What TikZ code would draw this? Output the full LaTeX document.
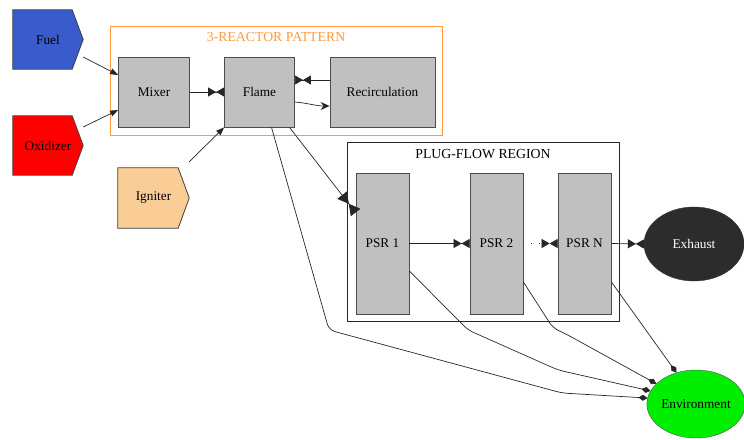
\documentclass[tikz,border=0pt]{standalone}
\usepackage{fontspec}
\setmainfont{Liberation Serif}
\usetikzlibrary{arrows.meta,calc,shapes.geometric}
\definecolor{fuelblue}{HTML}{3A5BCC}
\definecolor{oxred}{HTML}{FF0000}
\definecolor{ignpeach}{HTML}{FACD96}
\definecolor{boxgray}{HTML}{C0C0C0}
\definecolor{clorange}{HTML}{FF9A40}
\definecolor{exdark}{HTML}{2C2C2C}
\definecolor{envgreen}{HTML}{00EE00}
\tikzset{
  lbl/.style={font=\rmfamily\fontsize{13.3}{15}\selectfont},
  reactor/.style={lbl, draw=black!70, fill=boxgray, line width=0.8pt, inner sep=0pt},
  feed/.style={lbl, inner sep=0pt, minimum width=70pt, minimum height=59pt},
  feedshape/.style={draw=black!75, line width=0.8pt},
  edge/.style={draw=black!85, line width=0.7pt},
  bowtie/.style={-{Triangle[length=8pt,width=9pt] Triangle[length=8pt,width=9pt,reversed]}},
  bigbowtie/.style={-{Triangle[length=11pt,width=12pt] Triangle[length=11pt,width=12pt,reversed]}},
  diam/.style={-{Diamond[length=9pt,width=6pt]}},
  feedarrow/.style={-{Triangle[length=8pt,width=6pt]}},
  cltitle/.style={font=\rmfamily\fontsize{13.8}{16}\selectfont}
}
\begin{document}
\begin{tikzpicture}[x=1pt,y=-1pt]
\useasboundingbox (0,0) rectangle (744,439);
% clusters
\draw[clorange, line width=1.8pt] (110.5,26.5) rectangle (442.5,135.5);
\node[cltitle, text=clorange] (t1) at (276,37) {3-REACTOR PATTERN};
\draw[black!85, line width=1.8pt] (347.5,142.5) rectangle (619.5,321.5);
\node[cltitle] (t2) at (483,154) {PLUG-FLOW REGION};
% feed nodes
\node[feed] (fuel) at (48,39.5) {};
\node[feed] (oxid) at (48,145.5) {};
\node[feed, minimum width=71pt, minimum height=60pt] (ign) at (153.5,198) {};
\fill[fuelblue] (fuel.north west) -- ([shift={(-11,0)}]fuel.north east) -- (fuel.east) -- ([shift={(-11,0)}]fuel.south east) -- (fuel.south west) -- cycle;
\draw[feedshape] (fuel.north west) -- ([shift={(-11,0)}]fuel.north east) -- (fuel.east) -- ([shift={(-11,0)}]fuel.south east) -- (fuel.south west) -- cycle;
\fill[oxred] (oxid.north west) -- ([shift={(-11,0)}]oxid.north east) -- (oxid.east) -- ([shift={(-11,0)}]oxid.south east) -- (oxid.south west) -- cycle;
\draw[feedshape] (oxid.north west) -- ([shift={(-11,0)}]oxid.north east) -- (oxid.east) -- ([shift={(-11,0)}]oxid.south east) -- (oxid.south west) -- cycle;
\fill[ignpeach] (ign.north west) -- ([shift={(-11,0)}]ign.north east) -- (ign.east) -- ([shift={(-11,0)}]ign.south east) -- (ign.south west) -- cycle;
\draw[feedshape] (ign.north west) -- ([shift={(-11,0)}]ign.north east) -- (ign.east) -- ([shift={(-11,0)}]ign.south east) -- (ign.south west) -- cycle;
\node[lbl] (fueltxt) at (fuel) {Fuel};
\node[lbl] (oxidtxt) at (oxid) {Oxidizer};
\node[lbl] (igntxt) at (ign) {Igniter};
% reactors
\node[reactor, minimum width=71pt, minimum height=70pt] (mixer) at (154,92) {Mixer};
\node[reactor, minimum width=70pt, minimum height=70pt] (flame) at (259.5,92) {Flame};
\node[reactor, minimum width=105pt, minimum height=70pt] (recirc) at (382.5,92) {Recirculation};
\node[reactor, minimum width=53pt, minimum height=141pt] (psr1) at (382.5,243.5) {PSR 1};
\node[reactor, minimum width=53pt, minimum height=141pt] (psr2) at (496.5,243.5) {PSR 2};
\node[reactor, minimum width=53pt, minimum height=141pt] (psrn) at (584.5,243.5) {PSR N};
\node[lbl, ellipse, fill=exdark, draw=black!80, text=white, minimum width=100pt, minimum height=74pt, inner sep=0pt] (exh) at (694,244) {Exhaust};
\node[lbl, ellipse, fill=envgreen, draw=black!70, minimum width=95pt, minimum height=68pt, inner sep=0pt] (env) at (696,404) {Environment};
% bend points
\coordinate (b1) at (329,330);
\coordinate (b2) at (562,393);
\coordinate (c1) at (468,330);
\coordinate (c2) at (558,370);
\coordinate (d1) at (553,328);
\coordinate (d2) at (566,334);
% edges
\draw[edge, feedarrow] ([shift={(0,17.5)}]fuel.east) -- ([shift={(0,-17)}]mixer.west);
\draw[edge, feedarrow] ([shift={(0,-18.5)}]oxid.east) -- ([shift={(0,18)}]mixer.west);
\draw[edge, feedarrow] ([shift={(0,-6)}]ign.north east) -- (flame.south west);
\draw[edge, bowtie] (mixer.east) -- (flame.west);
\draw[edge, bowtie] ([shift={(0,-12)}]recirc.west) -- ([shift={(0,-12)}]flame.east);
\draw[edge, -{Stealth[length=9pt,width=8pt,inset=3pt]}] ([shift={(0,10)}]flame.east) to[out=-5,in=180] ([shift={(0,14)}]recirc.west);
\draw[edge, bigbowtie] ([shift={(30,0)}]flame.south) -- ([shift={(0,-31)}]psr1.west);
\draw[edge, bowtie] (psr1.east) -- (psr2.west);
\draw[edge, bowtie, dash pattern=on 1pt off 7pt] (psr2.east) -- (psrn.west);
\draw[edge, bowtie] (psrn.east) -- (exh.west);
\draw[edge, diam, rounded corners=6pt] ([shift={(12,0)}]flame.south) -- (b1) -- (b2) -- (env.173);
\draw[edge, diam, rounded corners=6pt] ([shift={(0,27.5)}]psr1.east) -- (c1) -- (c2) -- (env.164);
\draw[edge, diam, rounded corners=6pt] ([shift={(0,38.5)}]psr2.east) -- (d1) -- (d2) -- (env.153);
\draw[edge, diam] ([shift={(0,38.5)}]psrn.east) -- (env.122);
\end{tikzpicture}
\end{document}
